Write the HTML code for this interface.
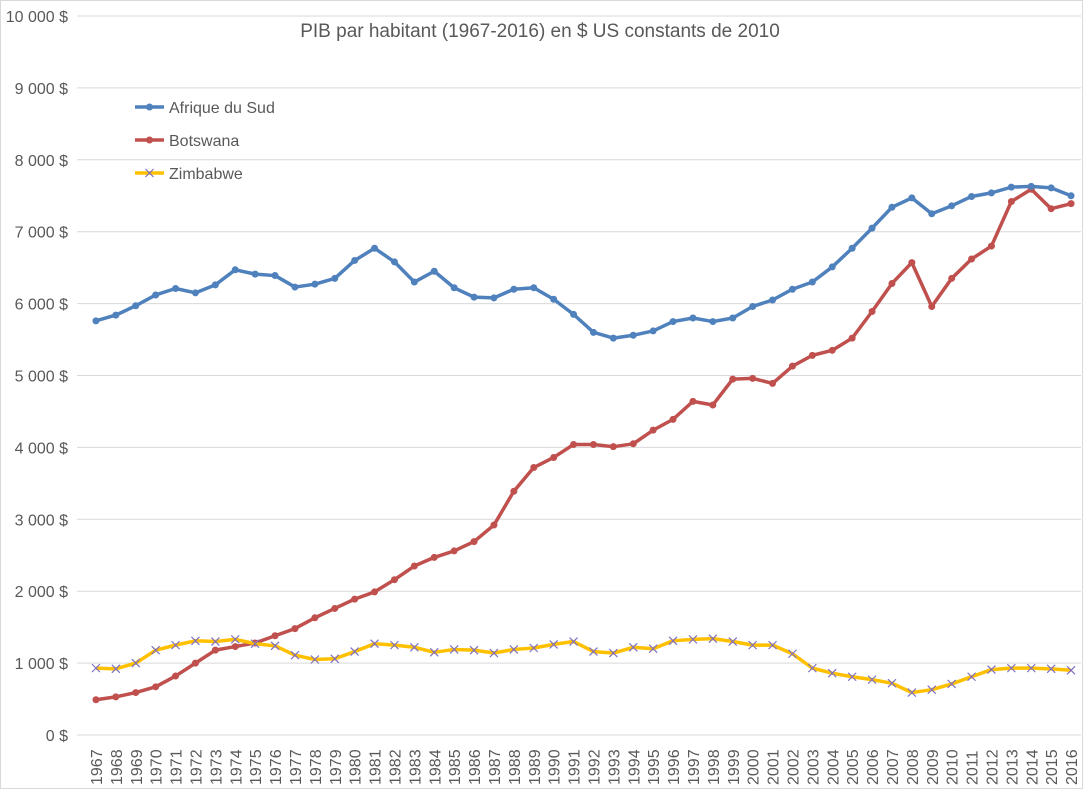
<!DOCTYPE html>
<html><head><meta charset="utf-8"><style>
body{margin:0;background:#fff;font-family:"Liberation Sans",sans-serif;}
svg{display:block}
</style></head><body>
<svg id="chart" width="1083" height="789">
<rect x="0.5" y="0.5" width="1082" height="788" fill="#fff" stroke="#d9d9d9"/>
<text x="540" y="37" text-anchor="middle" font-size="19" fill="#595959">PIB par habitant (1967-2016) en $ US constants de 2010</text>
<g id="grid"></g><g id="yl"></g><g id="xl"></g><g id="series"></g>
<g id="legend"></g>
</svg>
<script>
const years=[];for(let y=1967;y<=2016;y++)years.push(y);
const yTicks=[0,1000,2000,3000,4000,5000,6000,7000,8000,9000,10000];
const southAfrica=[5760,5840,5970,6120,6210,6150,6260,6470,6410,6390,6230,6270,6350,6600,6770,6580,6300,6450,6220,6090,6080,6200,6220,6060,5850,5600,5520,5560,5620,5750,5800,5750,5800,5960,6050,6200,6300,6510,6770,7050,7340,7470,7250,7360,7490,7540,7620,7630,7610,7500];
const botswana=[490,530,590,670,820,1000,1180,1230,1280,1380,1480,1630,1760,1890,1990,2160,2350,2470,2560,2690,2920,3390,3720,3860,4040,4040,4010,4050,4240,4390,4640,4590,4950,4960,4890,5130,5280,5350,5520,5890,6280,6570,5960,6350,6620,6800,7420,7590,7320,7390];
const zimbabwe=[930,920,1000,1180,1250,1310,1300,1330,1270,1240,1110,1050,1060,1160,1270,1250,1220,1150,1190,1180,1140,1190,1210,1260,1300,1160,1140,1220,1200,1310,1330,1340,1300,1250,1250,1130,930,860,810,770,720,590,630,710,810,910,930,930,920,900];
const NS="http://www.w3.org/2000/svg";
const L=86,R=1081,Y0=735,Y1=16;
const bw=(R-L)/years.length;
const xS=i=>L+bw*(i+0.5);
const yS=v=>Y0-(v/10000)*(Y0-Y1);
function mk(t,a,p){const e=document.createElementNS(NS,t);for(const k in a)e.setAttribute(k,a[k]);p.appendChild(e);return e;}
const fmt=v=>(v>=1000?Math.floor(v/1000)+"\u00a0"+String(v%1000).padStart(3,"0"):String(v))+" $";
yTicks.forEach(v=>{
  const g=mk("line",{x1:77,x2:R,y1:yS(v),y2:yS(v),stroke:"#d9d9d9","stroke-width":1},document.getElementById("grid"));
  
  
  const t=mk("text",{x:68,y:yS(v)+6,"text-anchor":"end","font-size":16,fill:"#595959"},document.getElementById("yl"));
  t.textContent=fmt(v);
  
  
});
years.forEach((y,i)=>{
  const t=mk("text",{transform:`translate(${xS(i)+6},785) rotate(-90)`,"font-size":16,fill:"#595959"},document.getElementById("xl"));
  t.textContent=y;
  
  
});
function series(vals,color,marker,name){
  const g=mk("g",{},document.getElementById("series"));
  
  
  mk("polyline",{points:vals.map((v,i)=>xS(i)+","+yS(v)).join(" "),fill:"none",stroke:color,"stroke-width":3.5,"stroke-linejoin":"round"},g);
  vals.forEach((v,i)=>{
    const x=xS(i),y=yS(v);
    if(marker==="dot"){const c=mk("circle",{cx:x,cy:y,r:3.5,fill:color},g);
      
      }
    else{const p=mk("path",{d:`M${x-4},${y-4}L${x+4},${y+4}M${x-4},${y+4}L${x+4},${y-4}`,stroke:"#7e6fc4","stroke-width":1.2},g);
      
      }
  });
}
series(botswana,"#c0504d","dot","series-botswana");
series(southAfrica,"#4f81bd","dot","series-afrique-du-sud");
series(zimbabwe,"#ffc000","x","series-zimbabwe");
const leg=[["Afrique du Sud","#4f81bd","dot"],["Botswana","#c0504d","dot"],["Zimbabwe","#ffc000","x"]];
leg.forEach((l,k)=>{
  const y=107+k*33;
  const g=mk("g",{},document.getElementById("legend"));
  
  
  mk("line",{x1:135,x2:164,y1:y,y2:y,stroke:l[1],"stroke-width":3.5},g);
  if(l[2]==="dot")mk("circle",{cx:149.5,cy:y,r:3.5,fill:l[1]},g);
  else mk("path",{d:`M145.5,${y-4}L153.5,${y+4}M145.5,${y+4}L153.5,${y-4}`,stroke:"#7e6fc4","stroke-width":1.2},g);
  const t=mk("text",{x:169,y:y+6,"font-size":16,fill:"#595959"},g);t.textContent=l[0];
});
</script>
</body></html>
